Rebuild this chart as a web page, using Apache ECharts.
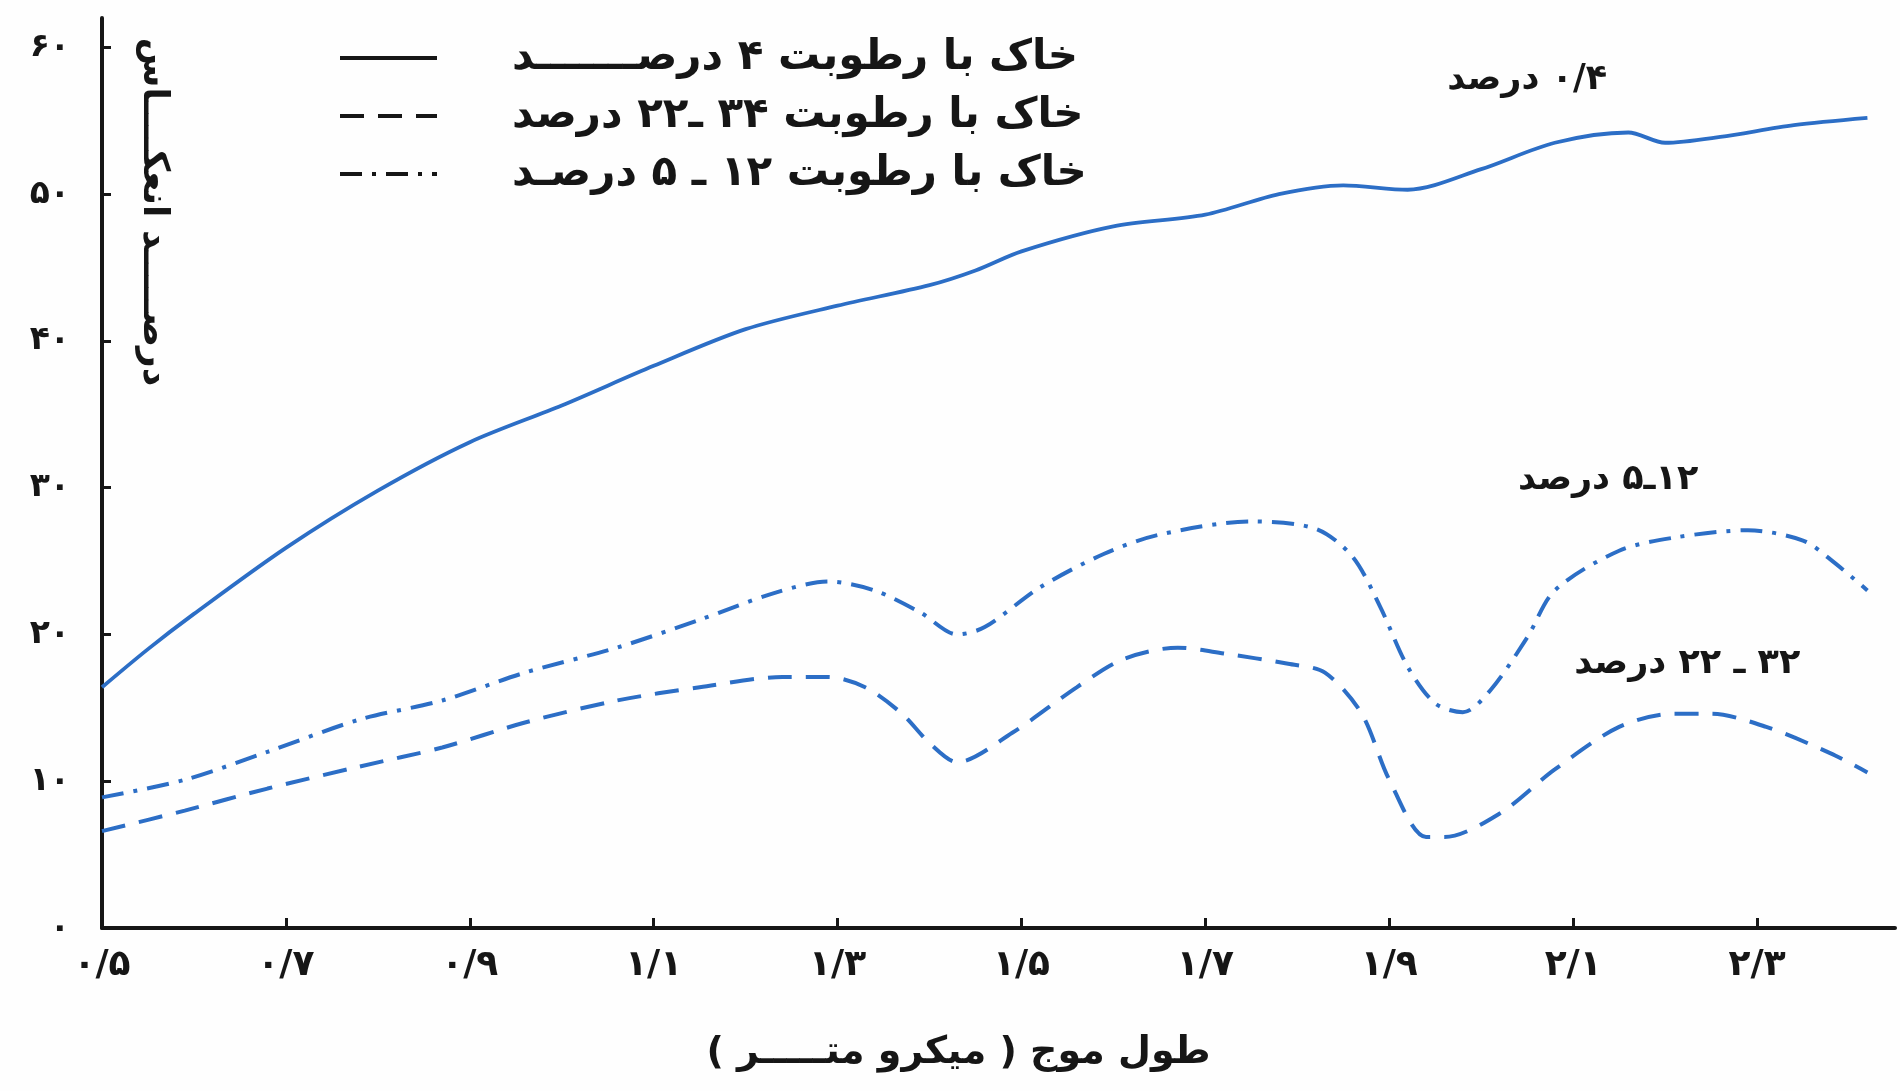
<!DOCTYPE html>
<html>
<head>
<meta charset="utf-8">
<script src="https://cdn.jsdelivr.net/npm/echarts@6/dist/echarts.min.js"></script>
<style>
  html, body { margin: 0; padding: 0; background: #fefefe; }
  #chart { width: 1900px; height: 1091px; }
</style>
</head>
<body>
<!-- right-to-left base direction so Persian captions lay out naturally -->
<div id="chart" dir="rtl"></div>
<script>
// Wavelength (micrometre) and reflectance (%) for three soil moisture levels
const dryWave = [0.50, 0.55, 0.60, 0.70, 0.80, 0.90, 1.00, 1.10, 1.20, 1.30, 1.40, 1.45, 1.50, 1.60, 1.70, 1.78, 1.85, 1.92, 2.00, 2.08, 2.16, 2.20, 2.26, 2.34, 2.42];
const dryRefl = [16.4, 19.0, 21.4, 25.9, 29.8, 33.1, 35.6, 38.3, 40.8, 42.4, 43.8, 44.8, 46.1, 47.8, 48.6, 50.0, 50.6, 50.3, 51.7, 53.5, 54.2, 53.5, 53.9, 54.7, 55.2];

const midWave = [0.50, 0.59, 0.68, 0.78, 0.87, 0.96, 1.06, 1.15, 1.23, 1.29, 1.34, 1.39, 1.43, 1.46, 1.52, 1.59, 1.65, 1.75, 1.82, 1.86, 1.89, 1.92, 1.95, 1.98, 2.01, 2.05, 2.08, 2.15, 2.21, 2.29, 2.35, 2.38, 2.42];
const midRefl = [8.9, 10.1, 12.0, 14.2, 15.5, 17.4, 19.1, 21.0, 22.8, 23.6, 23.0, 21.5, 20.0, 20.5, 23.2, 25.5, 26.8, 27.7, 27.2, 25.3, 21.9, 17.8, 15.3, 14.7, 16.2, 19.8, 23.0, 25.7, 26.6, 27.1, 26.4, 25.1, 23.0];

const wetWave = [0.50, 0.59, 0.68, 0.78, 0.87, 0.96, 1.06, 1.15, 1.24, 1.29, 1.33, 1.37, 1.40, 1.43, 1.49, 1.56, 1.61, 1.67, 1.72, 1.79, 1.83, 1.87, 1.90, 1.94, 1.96, 2.02, 2.08, 2.15, 2.21, 2.25, 2.31, 2.38, 2.42];
const wetRefl = [6.6, 8.0, 9.5, 11.0, 12.3, 14.0, 15.5, 16.4, 17.1, 17.1, 16.4, 14.6, 12.6, 11.3, 13.3, 16.4, 18.3, 19.1, 18.7, 18.0, 17.4, 14.6, 10.1, 6.2, 6.2, 7.8, 10.8, 13.7, 14.6, 14.6, 13.7, 11.9, 10.6];

// Axis ticks
const xTickValues = [0.5, 0.7, 0.9, 1.1, 1.3, 1.5, 1.7, 1.9, 2.1, 2.3];
const xTickLabels = ['۰/۵', '۰/۷', '۰/۹', '۱/۱', '۱/۳', '۱/۵', '۱/۷', '۱/۹', '۲/۱', '۲/۳'];
const yTickValues = [0, 10, 20, 30, 40, 50, 60];
const yTickLabels = ['۰', '۱۰', '۲۰', '۳۰', '۴۰', '۵۰', '۶۰'];

// Captions
const dryName = 'خاک با رطوبت ۴ درصـــــــد';
const wetName = 'خاک با رطوبت ۳۴ ـ۲۲ درصد';
const midName = 'خاک با رطوبت ۱۲ ـ ۵ درصـد';
const xTitle = 'طول موج ( میکرو متـــــر )';
const yTitle = 'درصـــــد انعکــــاس';
const dryNote = '۰/۴ درصد';
const midNote = '۱۲ـ۵ درصد';
const wetNote = '۳۲ ـ ۲۲ درصد';

const FONT = '"DejaVu Sans", sans-serif';
const INK = '#161616';
const BLUE = '#2c6ec6';

const pairs = (xs, ys) => xs.map((x, i) => [x, ys[i]]);

function note(text, coord) {
  return {
    symbol: 'circle',
    symbolSize: 1,
    itemStyle: { color: 'rgba(0,0,0,0)' },
    label: {
      show: true, position: 'inside', color: INK,
      fontFamily: FONT, fontWeight: 'bold', fontSize: 35,
      formatter: text
    },
    data: [{ coord: coord }]
  };
}

const chart = echarts.init(document.getElementById('chart'), null, { renderer: 'canvas' });

chart.setOption({
  backgroundColor: '#fefefe',
  animation: false,
  grid: { left: 102, right: 5, top: 18, bottom: 163, containLabel: false },
  xAxis: {
    type: 'value',
    min: 0.5, max: 2.45, interval: 0.2,
    name: xTitle,
    nameLocation: 'middle',
    nameGap: 106,
    nameTextStyle: {
      fontFamily: FONT, fontWeight: 'bold', fontSize: 38, color: INK,
      padding: [0, 80, 0, 0]
    },
    axisLine: { lineStyle: { color: INK, width: 4 } },
    axisTick: { show: true, inside: true, length: 10, lineStyle: { color: INK, width: 3 }, customValues: xTickValues },
    axisLabel: {
      customValues: xTickValues,
      margin: 20,
      fontFamily: FONT, fontWeight: 'bold', fontSize: 36, color: INK,
      formatter: v => {
        const i = xTickValues.findIndex(t => Math.abs(t - v) < 1e-6);
        return i >= 0 ? xTickLabels[i] : '';
      }
    },
    splitLine: { show: false }
  },
  yAxis: {
    type: 'value',
    min: 0, max: 62, interval: 10,
    axisLine: { show: true, lineStyle: { color: INK, width: 4 } },
    axisTick: { show: true, inside: true, length: 9, lineStyle: { color: INK, width: 3 }, customValues: yTickValues },
    axisLabel: {
      customValues: yTickValues,
      margin: 32,
      fontFamily: FONT, fontWeight: 'bold', fontSize: 33, color: INK,
      formatter: v => {
        const i = yTickValues.indexOf(v);
        return i >= 0 ? yTickLabels[i] : '';
      }
    },
    splitLine: { show: false }
  },
  legend: {
    orient: 'vertical',
    left: 333, top: 30,
    itemWidth: 97, itemHeight: 14, itemGap: 12,
    textStyle: {
      fontFamily: FONT, fontWeight: 'bold', fontSize: 42, color: INK,
      lineHeight: 46,
      padding: [0, 0, 0, 70]
    },
    data: [
      { name: dryName, lineStyle: { color: INK, width: 4 }, itemStyle: { opacity: 0 } },
      { name: wetName, lineStyle: { color: INK, width: 4 }, itemStyle: { opacity: 0 } },
      { name: midName, lineStyle: { color: INK, width: 4 }, itemStyle: { opacity: 0 } }
    ]
  },
  graphic: [{
    type: 'text',
    x: 153, y: 212,
    rotation: -Math.PI / 2,
    style: {
      text: yTitle, fill: INK,
      font: 'bold 36px "DejaVu Sans", sans-serif',
      align: 'center', verticalAlign: 'middle'
    }
  }],
  series: [
    {
      name: dryName, type: 'line', smooth: 0.3, symbol: 'none',
      lineStyle: { color: BLUE, width: 3.8 },
      itemStyle: { color: BLUE },
      data: pairs(dryWave, dryRefl),
      markPoint: note(dryNote, [2.05, 57.8])
    },
    {
      name: wetName, type: 'line', smooth: 0.3, symbol: 'none',
      lineStyle: { color: BLUE, width: 4, type: [24, 14] },
      itemStyle: { color: BLUE },
      data: pairs(wetWave, wetRefl),
      markPoint: note(wetNote, [2.224, 18.0])
    },
    {
      name: midName, type: 'line', smooth: 0.3, symbol: 'none',
      lineStyle: { color: BLUE, width: 4, type: [22, 10, 4, 10] },
      itemStyle: { color: BLUE },
      data: pairs(midWave, midRefl),
      markPoint: note(midNote, [2.138, 30.5])
    }
  ]
});
</script>
</body>
</html>
